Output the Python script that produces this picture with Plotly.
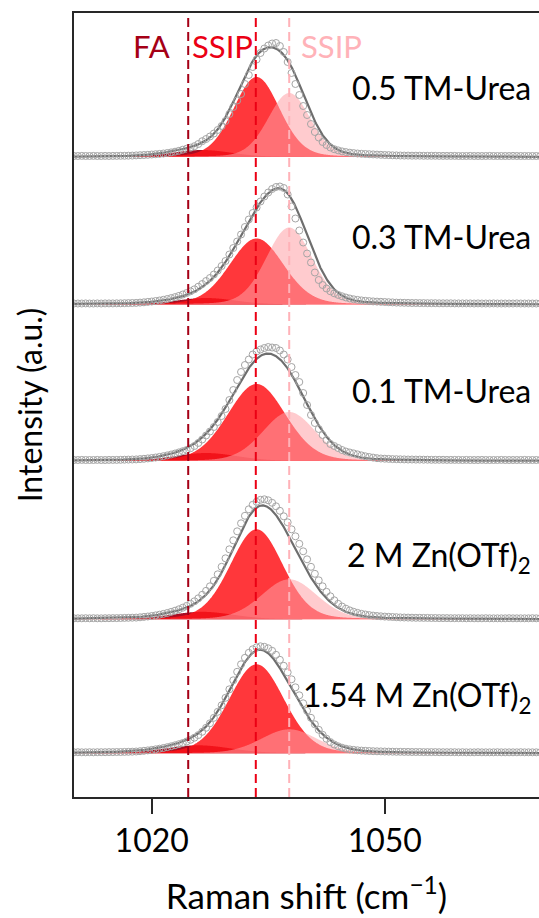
import numpy as np
import plotly.graph_objects as go

# Raman shift sampling of the measured spectra (cm^-1), 0.5 cm^-1 step
SHIFT_START = 1010.0
SHIFT_STEP = 0.5

samples = [
    "0.5 TM-Urea",
    "0.3 TM-Urea",
    "0.1 TM-Urea",
    "2 M Zn(OTf)<sub>2</sub>",
    "1.54 M Zn(OTf)<sub>2</sub>",
]

# Measured intensities (a.u.), one row of ten points per 5 cm^-1, starting at 1010
int_05_tmurea = [
    1.0, 1.0, 1.1, 1.0, 1.0, 1.1, 1.0, 1.0, 1.1, 1.0,
    1.1, 1.1, 1.2, 1.2, 1.3, 1.4, 1.6, 1.8, 2.0, 2.2,
    2.5, 2.8, 3.1, 3.5, 4.0, 4.6, 5.3, 6.2, 7.3, 8.3,
    9.3, 10.8, 13.0, 15.8, 18.0, 20.5, 23.5, 27.0, 31.0, 36.0,
    43.0, 50.0, 56.5, 63.0, 73.0, 82.0, 90.0, 97.5, 104.0, 108.5,
    111.5, 113.5, 114.0, 111.0, 105.0, 95.0, 84.0, 73.0, 62.0, 51.0,
    42.0, 33.0, 25.0, 19.5, 15.0, 12.0, 9.5, 7.8, 6.6, 5.6,
    4.9, 4.3, 3.9, 3.5, 3.2, 3.0, 2.8, 2.6, 2.4, 2.2,
    2.0, 1.9, 1.7, 1.6, 1.5, 1.4, 1.4, 1.3, 1.3, 1.3,
    1.2, 1.2, 1.2, 1.2, 1.1, 1.1, 1.1, 1.1, 1.1, 1.0,
    1.0, 1.0, 1.1, 1.0, 1.0, 1.0, 1.0, 1.1, 1.0, 1.0,
    1.0, 1.0, 1.0, 1.1, 1.0, 1.0, 1.0, 1.0, 1.0, 1.0,
    1.0,
]
int_03_tmurea = [
    1.0, 1.0, 1.0, 1.1, 1.0, 1.0, 1.1, 1.0, 1.1, 1.1,
    1.1, 1.2, 1.2, 1.3, 1.4, 1.5, 1.6, 1.9, 2.2, 2.6,
    3.0, 3.5, 4.0, 4.7, 5.5, 6.4, 7.4, 8.6, 10.0, 11.5,
    13.2, 15.2, 17.8, 20.5, 23.5, 26.5, 30.0, 34.0, 38.5, 43.5,
    50.0, 56.5, 63.0, 70.0, 77.5, 85.0, 91.5, 97.0, 103.0, 108.0,
    112.0, 115.5, 117.5, 118.0, 116.5, 110.0, 98.0, 86.0, 74.0, 62.0,
    51.0, 42.0, 32.0, 24.5, 19.5, 16.0, 13.2, 11.2, 9.6, 8.2,
    7.0, 6.0, 5.2, 4.6, 4.1, 3.7, 3.4, 3.1, 2.9, 2.7,
    2.5, 2.3, 2.1, 1.9, 1.8, 1.7, 1.6, 1.5, 1.5, 1.4,
    1.4, 1.3, 1.3, 1.3, 1.2, 1.2, 1.2, 1.2, 1.1, 1.1,
    1.1, 1.1, 1.1, 1.0, 1.1, 1.0, 1.0, 1.0, 1.1, 1.0,
    1.0, 1.0, 1.0, 1.0, 1.1, 1.0, 1.0, 1.0, 1.0, 1.0,
    1.0,
]
int_01_tmurea = [
    1.0, 1.0, 1.1, 1.0, 1.0, 1.0, 1.1, 1.0, 1.0, 1.1,
    1.1, 1.1, 1.2, 1.3, 1.4, 1.5, 1.6, 1.9, 2.2, 2.6,
    3.0, 3.5, 4.1, 4.8, 5.6, 6.5, 7.5, 8.6, 9.8, 11.0,
    12.8, 15.0, 18.0, 21.5, 25.5, 29.5, 34.0, 39.0, 45.0, 52.0,
    61.0, 71.0, 81.0, 89.0, 96.0, 101.5, 106.5, 109.5, 111.5, 113.0,
    114.0, 113.5, 113.0, 110.5, 106.5, 101.5, 94.0, 86.0, 79.0, 68.0,
    56.0, 46.0, 38.0, 32.0, 26.0, 21.0, 17.0, 15.0, 13.0, 11.0,
    9.5, 8.5, 7.6, 6.6, 5.6, 4.7, 4.0, 3.4, 2.8, 2.5,
    2.3, 2.1, 1.9, 1.8, 1.7, 1.6, 1.5, 1.5, 1.4, 1.4,
    1.3, 1.3, 1.2, 1.2, 1.2, 1.2, 1.1, 1.1, 1.1, 1.1,
    1.0, 1.1, 1.0, 1.0, 1.0, 1.1, 1.0, 1.0, 1.0, 1.0,
    1.1, 1.0, 1.0, 1.0, 1.0, 1.0, 1.1, 1.0, 1.0, 1.0,
    1.0,
]
int_2m_zn = [
    1.0, 1.0, 1.0, 1.1, 1.0, 1.1, 1.0, 1.0, 1.1, 1.1,
    1.2, 1.2, 1.3, 1.4, 1.5, 1.6, 1.7, 2.0, 2.4, 2.8,
    3.3, 3.9, 4.6, 5.4, 6.3, 7.4, 8.6, 10.0, 11.6, 13.4,
    15.5, 18.0, 21.0, 24.5, 28.5, 33.0, 38.5, 45.0, 52.5, 61.0,
    70.0, 79.0, 88.0, 96.0, 103.5, 110.0, 114.5, 117.5, 119.5, 120.0,
    119.0, 116.5, 113.0, 108.5, 103.0, 97.0, 90.0, 83.0, 75.5, 68.0,
    60.0, 52.5, 45.5, 39.0, 33.0, 27.5, 23.0, 19.0, 15.5, 12.8,
    10.6, 8.9, 7.5, 6.4, 5.5, 4.8, 4.2, 3.7, 3.3, 3.0,
    2.7, 2.5, 2.3, 2.1, 1.9, 1.8, 1.7, 1.6, 1.5, 1.5,
    1.4, 1.4, 1.3, 1.3, 1.2, 1.2, 1.2, 1.1, 1.1, 1.1,
    1.1, 1.0, 1.1, 1.0, 1.0, 1.0, 1.1, 1.0, 1.0, 1.0,
    1.0, 1.0, 1.1, 1.0, 1.0, 1.0, 1.0, 1.0, 1.1, 1.0,
    1.0,
]
int_154m_zn = [
    1.0, 1.1, 1.0, 1.0, 1.1, 1.0, 1.1, 1.1, 1.1, 1.2,
    1.2, 1.3, 1.3, 1.4, 1.5, 1.6, 1.8, 2.1, 2.5, 2.9,
    3.4, 4.0, 4.6, 5.3, 6.1, 7.0, 8.0, 9.1, 10.3, 11.8,
    13.5, 15.6, 18.2, 21.5, 25.5, 30.0, 35.5, 41.5, 48.0, 55.5,
    64.0, 73.0, 81.5, 89.0, 95.5, 100.5, 104.0, 106.0, 107.0, 106.5,
    105.0, 102.5, 98.5, 93.5, 87.5, 81.0, 74.0, 66.0, 58.0, 50.0,
    42.5, 35.5, 29.0, 23.5, 18.5, 14.5, 11.2, 8.8, 7.0, 5.6,
    4.6, 3.9, 3.4, 3.0, 2.7, 2.5, 2.3, 2.1, 2.0, 1.9,
    1.8, 1.7, 1.6, 1.5, 1.5, 1.4, 1.4, 1.3, 1.3, 1.3,
    1.2, 1.2, 1.2, 1.2, 1.1, 1.1, 1.1, 1.1, 1.1, 1.0,
    1.1, 1.0, 1.0, 1.0, 1.1, 1.0, 1.0, 1.0, 1.0, 1.1,
    1.0, 1.0, 1.0, 1.0, 1.0, 1.1, 1.0, 1.0, 1.0, 1.0,
    1.0,
]
intensities = [int_05_tmurea, int_03_tmurea, int_01_tmurea, int_2m_zn, int_154m_zn]

# Fitted peak components: centre (cm^-1), height (a.u.), FWHM (cm^-1)
fa_center = [1026.5, 1027.0, 1027.0, 1026.5, 1026.0]
fa_height = [7.0, 6.5, 8.0, 7.5, 8.0]
fa_fwhm = [9.0, 9.0, 9.5, 9.5, 10.0]

ssip_center = [1033.5, 1033.5, 1033.5, 1033.5, 1033.5]
ssip_height = [80.0, 66.0, 77.0, 90.0, 89.0]
ssip_fwhm = [7.0, 8.2, 8.8, 8.0, 8.4]

ssip2_center = [1037.7, 1037.7, 1037.7, 1037.7, 1037.7]
ssip2_height = [64.0, 77.0, 49.0, 40.0, 24.0]
ssip2_fwhm = [6.4, 7.0, 8.0, 8.4, 8.5]

# Reference band positions marked by dashed lines
band_fa = 1024.7
band_ssip = 1033.4
band_ssip2 = 1037.7

# Vertical stacking offsets of the spectra
offsets = [640.0, 492.5, 336.0, 177.7, 43.7]

# Styles
C_FA = "rgb(165,0,22)"
C_SSIP = "rgb(235,0,20)"
C_SSIP2 = "rgb(255,178,184)"
FILL_FA = "rgba(165,0,22,0.95)"
FILL_SSIP = "rgba(255,20,25,0.85)"
FILL_SSIP2 = "rgba(255,160,165,0.55)"
FONT = "Lato"


def pseudo_voigt(x, c, h, fwhm, eta=0.15):
    u = (x - c) / (fwhm / 2.0)
    return h * (eta / (1.0 + u ** 2) + (1.0 - eta) * np.exp(-np.log(2.0) * u ** 2))


x_fine = np.linspace(1010.0, 1070.0, 1201)
fig = go.Figure()

for i, name in enumerate(samples):
    off = offsets[i]
    meas = np.array(intensities[i])
    x_meas = SHIFT_START + SHIFT_STEP * np.arange(len(meas))

    comps = [
        (pseudo_voigt(x_fine, fa_center[i], fa_height[i], fa_fwhm[i]), FILL_FA),
        (pseudo_voigt(x_fine, ssip_center[i], ssip_height[i], ssip_fwhm[i]), FILL_SSIP),
        (pseudo_voigt(x_fine, ssip2_center[i], ssip2_height[i], ssip2_fwhm[i]), FILL_SSIP2),
    ]
    for comp, fill in comps:
        fig.add_trace(go.Scatter(
            x=np.concatenate([x_fine, x_fine[::-1]]),
            y=np.concatenate([off + comp, np.full_like(x_fine, off)]),
            fill="toself", fillcolor=fill, mode="none",
            hoverinfo="skip", showlegend=False,
        ))

    fit = sum(c for c, _ in comps)
    fig.add_trace(go.Scatter(
        x=x_fine, y=off + fit, mode="lines",
        line=dict(color="rgb(110,110,110)", width=2.2),
        showlegend=False,
    ))
    fig.add_trace(go.Scatter(
        x=x_meas, y=off + meas, mode="markers",
        marker=dict(symbol="circle-open", size=7, color="rgb(165,165,165)",
                    line=dict(width=1)),
        showlegend=False,
    ))

# Dashed band markers
for xb, col in [(band_fa, C_FA), (band_ssip, C_SSIP), (band_ssip2, C_SSIP2)]:
    fig.add_shape(type="line", xref="x", yref="paper", x0=xb, x1=xb, y0=0, y1=1,
                  line=dict(color=col, width=2, dash="9px,5px"), layer="above")

# Sample names
label_y = [710, 561, 407, 240, 100]
for name, ly in zip(samples, label_y):
    fig.add_annotation(x=1069.1, y=ly, xref="x", yref="y", text=name,
                       showarrow=False, xanchor="right", yanchor="middle",
                       font=dict(family=FONT, size=32, color="black"))

# Band names
for txt, xx, anchor, col in [("FA", 1022.6, "right", C_FA),
                             ("SSIP", 1024.9, "left", C_SSIP),
                             ("SSIP", 1038.9, "left", C_SSIP2)]:
    fig.add_annotation(x=xx, y=751, xref="x", yref="y", text=txt,
                       showarrow=False, xanchor=anchor, yanchor="middle",
                       font=dict(family=FONT, size=31, color=col))

fig.update_layout(
    width=539, height=918,
    margin=dict(l=74, r=0, t=13, b=121),
    plot_bgcolor="white", paper_bgcolor="white",
    showlegend=False,
    font=dict(family=FONT, size=31, color="black"),
)
fig.update_xaxes(
    range=[1010.0, 1069.85], showgrid=False, zeroline=False,
    showline=True, linecolor="rgb(40,40,40)", linewidth=2, mirror=True,
    ticks="outside", ticklen=15, tickwidth=2, tickcolor="rgb(40,40,40)",
    tickvals=[1020, 1050], ticktext=["1020", "1050"],
    tickfont=dict(family=FONT, size=32),
    title=dict(text="Raman shift (cm<sup>\u22121</sup>)",
               font=dict(family=FONT, size=35), standoff=26),
)
fig.update_yaxes(
    range=[0, 784], showgrid=False, zeroline=False,
    showline=True, linecolor="rgb(40,40,40)", linewidth=2,
    showticklabels=False, ticks="",
    title=dict(text="Intensity (a.u.)", font=dict(family=FONT, size=32), standoff=20),
)

fig.write_html("out.html")
